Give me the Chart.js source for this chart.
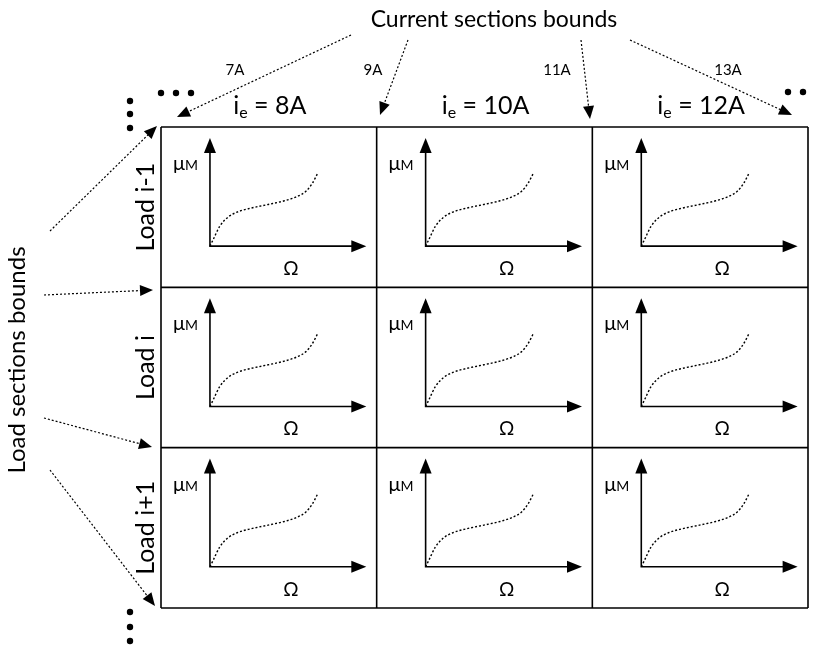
<!DOCTYPE html>
<html>
<head>
<meta charset="utf-8">
<script src="https://cdn.jsdelivr.net/npm/chart.js@4/dist/chart.umd.min.js"></script>
<style>
  html, body { margin: 0; padding: 0; background: #fff; }
  #diagram { display: block; }
</style>
</head>
<body>
<canvas id="diagram" width="816" height="646"></canvas>
<script>
// data
const currentColumns = ['8A', '10A', '12A'];
const currentBounds = ['7A', '9A', '11A', '13A'];
const loadRows = ['Load i-1', 'Load i', 'Load i+1'];
const omega = [0, 0.3, 0.9, 1.7, 2.6, 3.8, 5.4, 6.9, 8.1, 8.9, 9.5, 10];
const mu = [0, 0.9, 2.7, 4.0, 4.7, 5.2, 5.7, 6.2, 6.8, 7.5, 8.6, 10];

const FONT = 'Lato, "Liberation Sans", sans-serif';

// where the little (omega, mu) plot sits inside each grid cell
const cellPlot = { ox: 0.227, oy: 0.743, sx: 0.05, sy: 0.0456, axisX: 14.5, axisY: 14.8 };

function toCell(col, row, w, m) {
    return { x: col + cellPlot.ox + w * cellPlot.sx, y: row + cellPlot.oy - m * cellPlot.sy };
}

const datasets = [];
loadRows.forEach(function(load, r) {
    currentColumns.forEach(function(cur, c) {
        datasets.push({
            label: load + ' / ' + cur,
            data: omega.map((w, i) => toCell(c, r, w, mu[i])),
            showLine: true,
            pointRadius: 0,
            borderColor: '#000',
            borderWidth: 1.4,
            borderDash: [2, 2],
            cubicInterpolationMode: 'monotone'
        });
    });
});

function arrowHead(ctx, x1, y1, x2, y2, len, half) {
    const a = Math.atan2(y2 - y1, x2 - x1);
    ctx.beginPath();
    ctx.moveTo(x2, y2);
    ctx.lineTo(x2 - len * Math.cos(a) + half * Math.sin(a), y2 - len * Math.sin(a) - half * Math.cos(a));
    ctx.lineTo(x2 - len * Math.cos(a) - half * Math.sin(a), y2 - len * Math.sin(a) + half * Math.cos(a));
    ctx.closePath();
    ctx.fill();
}

function dottedArrow(ctx, x1, y1, x2, y2) {
    const a = Math.atan2(y2 - y1, x2 - x1);
    ctx.save();
    ctx.setLineDash([2, 2]);
    ctx.lineWidth = 1.2;
    ctx.beginPath();
    ctx.moveTo(x1, y1);
    ctx.lineTo(x2 - 10 * Math.cos(a), y2 - 10 * Math.sin(a));
    ctx.stroke();
    ctx.restore();
    arrowHead(ctx, x1, y1, x2, y2, 13, 5.5);
}

function dot(ctx, x, y) {
    ctx.beginPath();
    ctx.arc(x, y, 3.2, 0, Math.PI * 2);
    ctx.fill();
}

const gridPlugin = {
    id: 'gridPlugin',
    beforeDatasetsDraw(chart) {
        const ctx = chart.ctx;
        const xs = chart.scales.x, ys = chart.scales.y;
        ctx.save();
        ctx.strokeStyle = '#000';
        ctx.lineWidth = 1.6;
        for (let i = 0; i <= currentColumns.length; i++) {
            const px = xs.getPixelForValue(i);
            ctx.beginPath();
            ctx.moveTo(px, ys.getPixelForValue(0));
            ctx.lineTo(px, ys.getPixelForValue(loadRows.length));
            ctx.stroke();
        }
        for (let j = 0; j <= loadRows.length; j++) {
            const py = ys.getPixelForValue(j);
            ctx.beginPath();
            ctx.moveTo(xs.getPixelForValue(0), py);
            ctx.lineTo(xs.getPixelForValue(currentColumns.length), py);
            ctx.stroke();
        }

        // little axes in each cell
        ctx.fillStyle = '#000';
        ctx.lineWidth = 1.6;
        for (let r = 0; r < loadRows.length; r++) {
            for (let c = 0; c < currentColumns.length; c++) {
                const o = toCell(c, r, 0, 0);
                const ex = toCell(c, r, cellPlot.axisX, 0);
                const ey = toCell(c, r, 0, cellPlot.axisY);
                const ox = xs.getPixelForValue(o.x), oy = ys.getPixelForValue(o.y);
                const xx = xs.getPixelForValue(ex.x), yy = ys.getPixelForValue(ey.y);
                ctx.beginPath();
                ctx.moveTo(xx - 8, oy);
                ctx.lineTo(ox, oy);
                ctx.lineTo(ox, yy + 8);
                ctx.stroke();
                arrowHead(ctx, ox, oy, xx, oy, 15, 6);
                arrowHead(ctx, ox, oy, ox, yy, 15, 6);

                ctx.textBaseline = 'alphabetic';
                ctx.textAlign = 'left';
                ctx.font = '20px ' + FONT;
                ctx.fillText('\u03bc', ox - 37, oy - 76);
                const mw = ctx.measureText('\u03bc').width;
                ctx.font = '14px ' + FONT;
                ctx.fillText('M', ox - 37 + mw, oy - 76);
                ctx.font = '19px ' + FONT;
                ctx.textAlign = 'center';
                ctx.fillText('\u03a9', ox + 81, oy + 29);
            }
        }
        ctx.restore();
    },
    afterDatasetsDraw(chart) {
        const ctx = chart.ctx;
        const xs = chart.scales.x, ys = chart.scales.y;
        ctx.save();
        ctx.fillStyle = '#000';
        ctx.strokeStyle = '#000';

        // title + bound arrows on top
        ctx.textAlign = 'center';
        ctx.textBaseline = 'middle';
        ctx.font = '23px ' + FONT;
        ctx.fillText('Current sections bounds', 494, 20);

        const topStarts = [[351, 35], [408, 40], [581, 40], [630, 40]];
        const topTips = [[177, 117], [380, 115], [590, 119], [792, 115]];
        const boundPos = [[235, 70], [373, 70], [557, 70], [728, 70]];
        ctx.font = '15px ' + FONT;
        currentBounds.forEach(function(b, i) {
            dottedArrow(ctx, topStarts[i][0], topStarts[i][1], topTips[i][0], topTips[i][1]);
            ctx.fillText(b, boundPos[i][0], boundPos[i][1]);
        });

        // column headers i_e = ..
        currentColumns.forEach(function(cur, c) {
            const cx = (xs.getPixelForValue(c) + xs.getPixelForValue(c + 1)) / 2 + 1;
            const y = 106;
            ctx.font = '25px ' + FONT;
            const w1 = ctx.measureText('i').width;
            const w3 = ctx.measureText(' = ' + cur).width;
            ctx.font = '16px ' + FONT;
            const w2 = ctx.measureText('e').width;
            let x = cx - (w1 + w2 + w3) / 2;
            ctx.textAlign = 'left';
            ctx.textBaseline = 'alphabetic';
            ctx.font = '25px ' + FONT;
            ctx.fillText('i', x, y + 8);
            ctx.font = '16px ' + FONT;
            ctx.fillText('e', x + w1, y + 12);
            ctx.font = '25px ' + FONT;
            ctx.fillText(' = ' + cur, x + w1 + w2, y + 8);
        });

        // row labels, rotated
        ctx.textAlign = 'center';
        ctx.textBaseline = 'middle';
        ctx.font = '25px ' + FONT;
        loadRows.forEach(function(load, r) {
            const cy = (ys.getPixelForValue(r) + ys.getPixelForValue(r + 1)) / 2;
            ctx.save();
            ctx.translate(146, cy);
            ctx.rotate(-Math.PI / 2);
            ctx.fillText(load, 0, 0);
            ctx.restore();
        });

        ctx.save();
        ctx.translate(17, 360);
        ctx.rotate(-Math.PI / 2);
        ctx.font = '24px ' + FONT;
        ctx.fillText('Load sections bounds', 0, 0);
        ctx.restore();

        const leftStarts = [[50, 231], [44, 295], [44, 418], [50, 470]];
        const leftTips = [[157, 126], [153, 290], [152, 447], [155, 606]];
        leftStarts.forEach(function(s, i) {
            dottedArrow(ctx, s[0], s[1], leftTips[i][0], leftTips[i][1]);
        });

        // ellipsis dots
        [[161, 93], [176, 93], [191, 93], [130, 101], [130, 114], [130, 128],
         [130, 612], [130, 627], [130, 641], [788, 92], [803, 92]].forEach(p => dot(ctx, p[0], p[1]));

        ctx.restore();
    }
};

const chart = new Chart(document.getElementById('diagram').getContext('2d'), {
    type: 'scatter',
    data: { datasets: datasets },
    options: {
        responsive: false,
        animation: false,
        layout: { padding: { left: 161, top: 127, right: 8, bottom: 38 } },
        scales: {
            x: { type: 'linear', min: 0, max: 3, display: false },
            y: { type: 'linear', min: 0, max: 3, reverse: true, display: false }
        },
        plugins: { legend: { display: false }, tooltip: { enabled: false } }
    },
    plugins: [gridPlugin]
});
</script>
</body>
</html>
